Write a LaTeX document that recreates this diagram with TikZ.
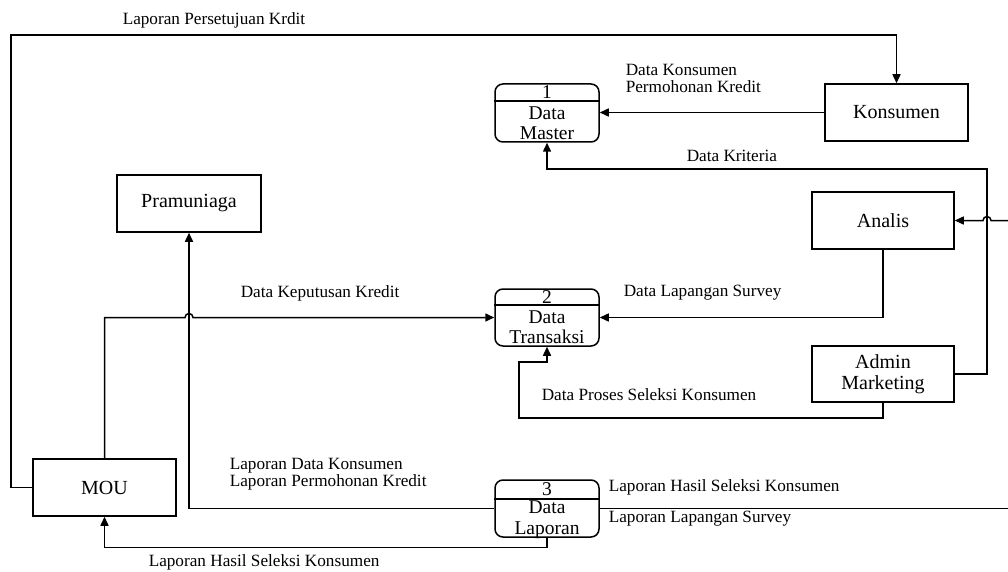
\documentclass[tikz,border=0pt]{standalone}
\usepackage{fontspec}
\setmainfont{Liberation Serif}
\usetikzlibrary{arrows.meta}
\begin{document}
\begin{tikzpicture}[x=1pt,y=-1pt,
  line width=1.5pt,
  ent/.style={draw,rectangle,inner sep=0pt,font=\fontsize{20}{21}\selectfont,align=center},
  store/.style={draw,rectangle,rounded corners=8pt,minimum width=104pt,minimum height=57pt,inner sep=0pt},
  stxt/.style={inner sep=0pt,font=\fontsize{19.5}{20.5}\selectfont,align=center},
  lbl/.style={inner sep=0pt,anchor=west,font=\fontsize{17.2}{17}\selectfont,align=left},
  arr/.style={-{Triangle[length=9pt,width=8pt]}},
]
\useasboundingbox (0,0) rectangle (1008,572);

% entities
\node[ent,minimum width=143pt,minimum height=57pt] (kon) at (896.5,112.5) {Konsumen};
\node[ent,minimum width=144pt,minimum height=57pt] (pra) at (189,203.5) {Pramuniaga};
\node[ent,minimum width=142pt,minimum height=57pt] (ana) at (883,220.5) {Analis};
\node[ent,minimum width=142pt,minimum height=56pt] (adm) at (883,374) {Admin\\Marketing};
\node[ent,minimum width=143pt,minimum height=57pt] (mou) at (104.5,487.5) {MOU};

% data stores
\node[store,minimum height=58pt] (dm) at (547,113) {};
\draw (dm.west |- 0,101) -- (dm.east |- 0,101);
\node[stxt] (dmn) at (547,92.5) {1};
\node[stxt] (dmt) at (547,123) {Data\\Master};

\node[store] (dt) at (547,317.5) {};
\draw (dt.west |- 0,305) -- (dt.east |- 0,305);
\node[stxt] (dtn) at (547,297) {2};
\node[stxt] (dtt) at (547,327) {Data\\Transaksi};

\node[store] (dl) at (547,508.5) {};
\draw (dl.west |- 0,499) -- (dl.east |- 0,499);
\node[stxt] (dln) at (547,489.5) {3};
\node[stxt] (dlt) at (547,519.5) {Data\\Laporan};

% free ends at the right edge
\coordinate (ra) at (1008,220.5);
\coordinate (rl) at (1008,508.5);

% connectors
\draw[arr] (mou.west) -| (11,35) -| (kon.north);
\draw[arr] (kon.west) -- (kon.west -| dm.east);
\draw[arr] (adm.east) -| (987,169) -| (dm.south);
\draw[arr] (ra) -- (991,220.5) arc[start angle=0,end angle=180,radius=4pt] -- (ana.east);
\draw[arr] (ana.south) |- (dt.east);
\draw[arr] (adm.south) -- (883,418) -| (519,362) -| (dt.south);
\draw[arr] (mou.north) |- (185,317.5) arc[start angle=180,end angle=0,radius=4pt] -- (dt.west);
\draw[arr] (dl.west) -| (pra.south);
\draw[arr] (dl.south) -- ++(0,9.5) -| (mou.south);
\draw (dl.east) -- (rl);

% labels
\node[lbl] (l1) at (122,20) {Laporan Persetujuan Krdit};
\node[lbl] (l2) at (625,78.5) {Data Konsumen\\Permohonan Kredit};
\node[lbl] (l3) at (686,156) {Data Kriteria};
\node[lbl] (l4) at (240,293) {Data Keputusan Kredit};
\node[lbl] (l5) at (623,293) {Data Lapangan Survey};
\node[lbl] (l6) at (541,395) {Data Proses Seleksi Konsumen};
\node[lbl] (l7) at (229,474.5) {Laporan Data Konsumen\\Laporan Permohonan Kredit};
\node[lbl] (l8) at (608,487) {Laporan Hasil Seleksi Konsumen};
\node[lbl] (l9) at (608,519) {Laporan Lapangan Survey};
\node[lbl] (l10) at (148,562) {Laporan Hasil Seleksi Konsumen};
\end{tikzpicture}
\end{document}
